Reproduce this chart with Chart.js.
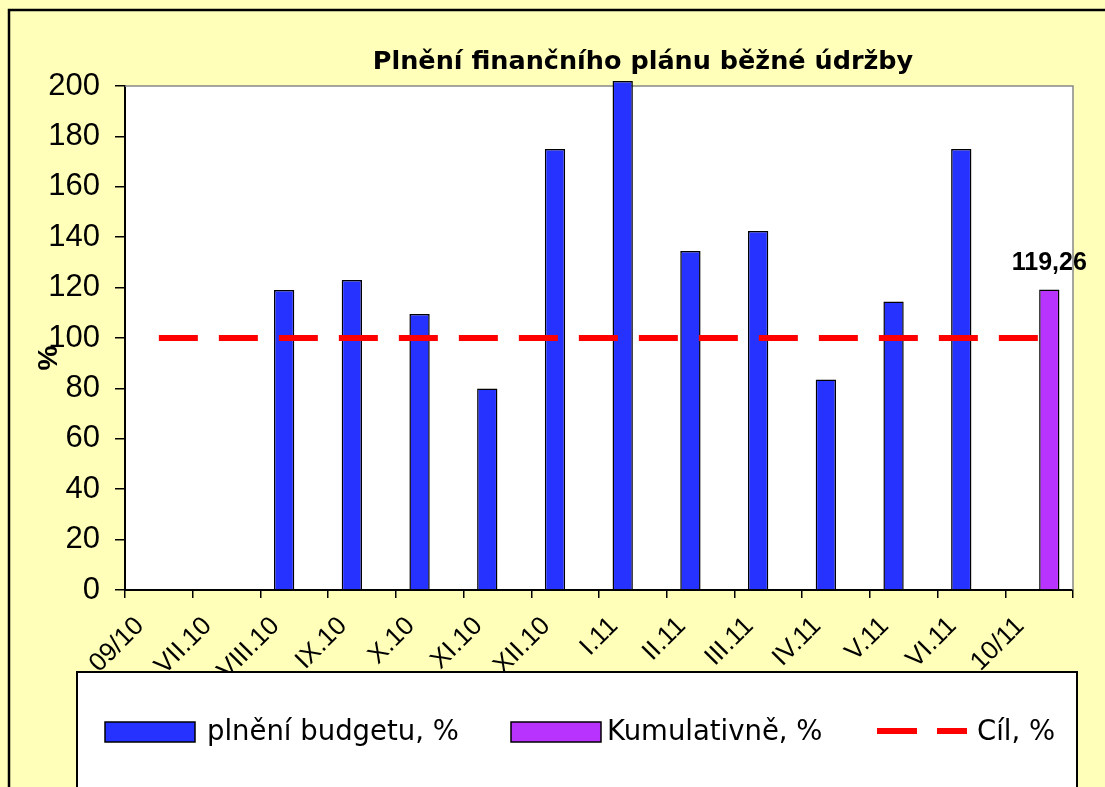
<!DOCTYPE html>
<html>
<head>
<meta charset="utf-8">
<script src="https://cdn.jsdelivr.net/npm/chart.js@4"></script>
<style>
  html, body { margin: 0; padding: 0; background: #FFFFBA; }
  #wrap { width: 1105px; height: 787px; position: relative; }
</style>
</head>
<body>
<div id="wrap"><canvas id="chart" width="1105" height="787"></canvas></div>
<script>
// -------- data ----------
const months = ["09/10", "VII.10", "VIII.10", "IX.10", "X.10", "XI.10", "XII.10",
                "I.11", "II.11", "III.11", "IV.11", "V.11", "VI.11", "10/11"];
const budgetPct     = [null, null, 119, 123, 109.5, 80, 175, 202, 134.5, 142.5, 83.5, 114.5, 175, null];
const cumulativePct = [null, null, null, null, null, null, null, null, null, null, null, null, null, 119.26];
const targetPct     = [100, 100, 100, 100, 100, 100, 100, 100, 100, 100, 100, 100, 100, 100];

const TITLE = "Plnění finančního plánu běžné údržby";
const BLUE = "#2632FF", PURPLE = "#B933FF", RED = "#FF0000";
const COMIC = '"Comic Sans MS", "DejaVu Sans", sans-serif';
const ARIAL = '"Liberation Sans", Arial, sans-serif';

// -------- decorations ----------
const frame = {
  id: "frame",
  beforeDraw(chart) {
    const { ctx, chartArea: a } = chart;
    ctx.save();
    ctx.fillStyle = "#fff";
    ctx.fillRect(a.left, a.top, a.right - a.left, a.bottom - a.top);
    ctx.restore();
  },
  beforeDatasetsDraw(chart) {
    const { ctx, chartArea: a } = chart;
    ctx.save();
    ctx.strokeStyle = "#888";
    ctx.lineWidth = 1.5;
    ctx.beginPath();
    ctx.moveTo(a.left, a.top); ctx.lineTo(a.right, a.top); ctx.lineTo(a.right, a.bottom);
    ctx.stroke();
    ctx.restore();
  },
  afterDatasetsDraw(chart) {
    // popisek kumulativní hodnoty
    const { ctx } = chart;
    const ds = chart.data.datasets[1];
    const meta = chart.getDatasetMeta(1);
    ds.data.forEach((v, i) => {
      if (v == null) return;
      const el = meta.data[i];
      ctx.save();
      ctx.font = "bold 25px " + ARIAL;
      ctx.fillStyle = "#000";
      ctx.textAlign = "center";
      ctx.textBaseline = "bottom";
      ctx.fillText(v.toFixed(2).replace(".", ","), el.x, el.y - 14);
      ctx.restore();
    });
  },
  afterDraw(chart) {
    const { ctx } = chart;
    ctx.save();
    // vnější rámeček
    ctx.strokeStyle = "#000";
    ctx.lineWidth = 2.5;
    ctx.beginPath();
    ctx.moveTo(9, 787); ctx.lineTo(9, 10); ctx.lineTo(1105, 10);
    ctx.stroke();

    // titulek
    ctx.fillStyle = "#000";
    ctx.font = "bold 25.5px " + COMIC;
    ctx.textAlign = "center";
    ctx.textBaseline = "middle";
    ctx.fillText(TITLE, 643, 62);

    // osa Y "%"
    ctx.save();
    ctx.translate(49, 358);
    ctx.rotate(-Math.PI / 2);
    ctx.font = "bold 28px " + ARIAL;
    ctx.fillText("%", 0, 0);
    ctx.restore();

    // legenda
    ctx.fillStyle = "#fff";
    ctx.fillRect(77, 672, 1000, 130);
    ctx.strokeStyle = "#000";
    ctx.lineWidth = 2;
    ctx.strokeRect(77, 672, 1000, 130);

    const ds = chart.data.datasets;
    ctx.font = "27.5px " + COMIC;
    ctx.textAlign = "left";
    ctx.textBaseline = "middle";
    ctx.lineWidth = 1.5;
    [[105, 207, ds[0]], [511, 607, ds[1]]].forEach(([bx, tx, d]) => {
      ctx.fillStyle = d.backgroundColor;
      ctx.fillRect(bx, 722, 90, 20);
      ctx.strokeStyle = "#000";
      ctx.strokeRect(bx, 722, 90, 20);
      ctx.fillStyle = "#000";
      ctx.fillText(d.label, tx, 733);
    });
    ctx.strokeStyle = ds[2].borderColor;
    ctx.lineWidth = 6;
    ctx.setLineDash([40, 20]);
    ctx.beginPath();
    ctx.moveTo(877, 731); ctx.lineTo(967, 731);
    ctx.stroke();
    ctx.setLineDash([]);
    ctx.fillStyle = "#000";
    ctx.fillText(ds[2].label, 977, 733);
    ctx.restore();
  }
};

// -------- chart ----------
new Chart(document.getElementById("chart"), {
  type: "bar",
  data: {
    labels: months,
    datasets: [
      { label: "plnění budgetu, %", data: budgetPct, backgroundColor: BLUE,
        borderColor: "#000", borderWidth: 1.5, order: 1, clip: false },
      { label: "Kumulativně, %", data: cumulativePct, backgroundColor: PURPLE,
        borderColor: "#000", borderWidth: 1.5, order: 1, clip: false },
      { type: "line", label: "Cíl, %", data: targetPct, borderColor: RED,
        borderWidth: 6, borderDash: [39, 21], pointRadius: 0, fill: false, order: 0 }
    ]
  },
  options: {
    responsive: false,
    animation: false,
    devicePixelRatio: 1,
    layout: { padding: { top: 86, right: 32, left: 0, bottom: 0 } },
    datasets: { bar: { categoryPercentage: 0.6, barPercentage: 1.0 } },
    plugins: { legend: { display: false }, tooltip: { enabled: false } },
    scales: {
      x: {
        offset: true,
        grid: { offset: true, drawOnChartArea: false, drawTicks: true, tickLength: 8, color: "#000", lineWidth: 1.5 },
        border: { display: true, color: "#000", width: 2 },
        ticks: { autoSkip: false, maxRotation: 45, minRotation: 45, padding: 13, labelOffset: -19,
                  color: "#000", font: { family: ARIAL, size: 26 } },
        afterFit: (s) => { s.height = 197; }
      },
      y: {
        min: 0, max: 200,
        grid: { drawOnChartArea: false, drawTicks: true, tickLength: 10, color: "#000", lineWidth: 1.5 },
        border: { display: true, color: "#000", width: 2 },
        ticks: { stepSize: 20, padding: 15, color: "#000", font: { family: ARIAL, size: 31 } },
        afterFit: (s) => { s.width = 125; }
      }
    }
  },
  plugins: [frame]
});
</script>
</body>
</html>
